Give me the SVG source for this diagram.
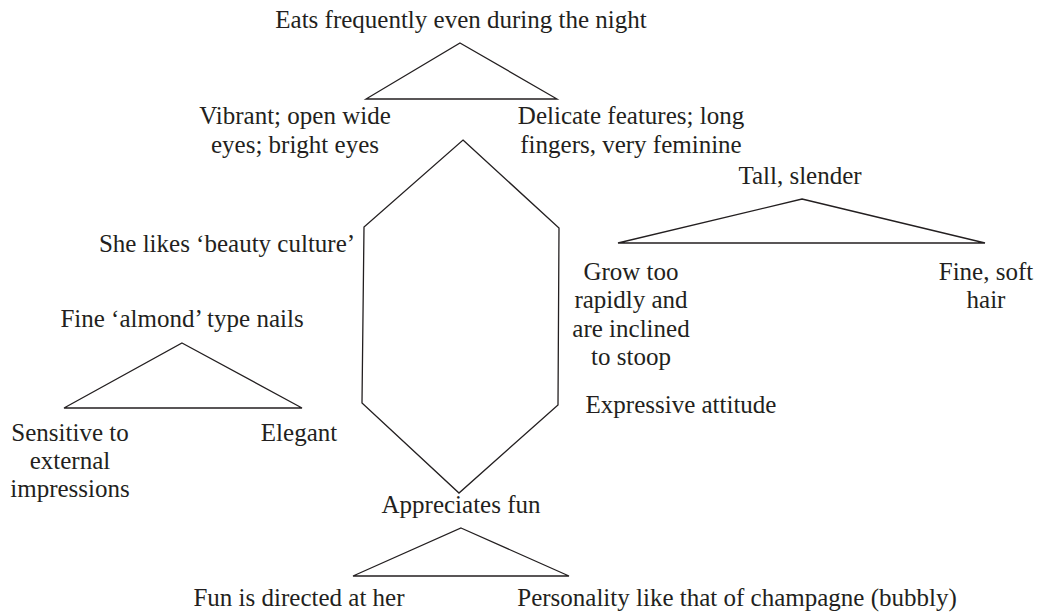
<svg xmlns="http://www.w3.org/2000/svg" width="1040" height="615" viewBox="0 0 1040 615">
<style>
text{font-family:"Liberation Serif","Times New Roman",serif;font-size:25px;fill:#231f20;text-anchor:middle}
.ln{fill:none;stroke:#231f20;stroke-width:1.3;stroke-linejoin:miter}
</style>
<rect width="1040" height="615" fill="#fff"/>
<g id="connectors">
<polygon class="ln" points="460,43 557,99 366,99"/>
<polygon class="ln" points="463,140 559,228 558,405 459,493 362,403 364,227"/>
<polygon class="ln" points="802,199 985,243 618,243"/>
<polygon class="ln" points="182,343 302,408 64,408"/>
<polygon class="ln" points="461,528 569,576 353,576"/>
</g>
<g id="n-eats"><text x="461" y="28">Eats frequently even during the night</text></g>
<g id="n-vibrant"><text x="295" y="124">Vibrant; open wide</text><text x="295" y="153">eyes; bright eyes</text></g>
<g id="n-delicate"><text x="631" y="124">Delicate features; long</text><text x="631" y="153">fingers, very feminine</text></g>
<g id="n-beauty"><text x="227" y="252">She likes ‘beauty culture’</text></g>
<g id="n-tall"><text x="800" y="184">Tall, slender</text></g>
<g id="n-grow"><text x="631" y="280">Grow too</text><text x="631" y="308">rapidly and</text><text x="631" y="337">are inclined</text><text x="631" y="365">to stoop</text></g>
<g id="n-hair"><text x="986" y="280">Fine, soft</text><text x="986" y="308">hair</text></g>
<g id="n-expressive"><text x="681" y="413">Expressive attitude</text></g>
<g id="n-nails"><text x="182" y="327">Fine ‘almond’ type nails</text></g>
<g id="n-sensitive"><text x="70" y="441">Sensitive to</text><text x="70" y="469">external</text><text x="70" y="497">impressions</text></g>
<g id="n-elegant"><text x="299" y="441">Elegant</text></g>
<g id="n-fun"><text x="461" y="513">Appreciates fun</text></g>
<g id="n-directed"><text x="299" y="606">Fun is directed at her</text></g>
<g id="n-champagne"><text x="737" y="606">Personality like that of champagne (bubbly)</text></g>
</svg>
